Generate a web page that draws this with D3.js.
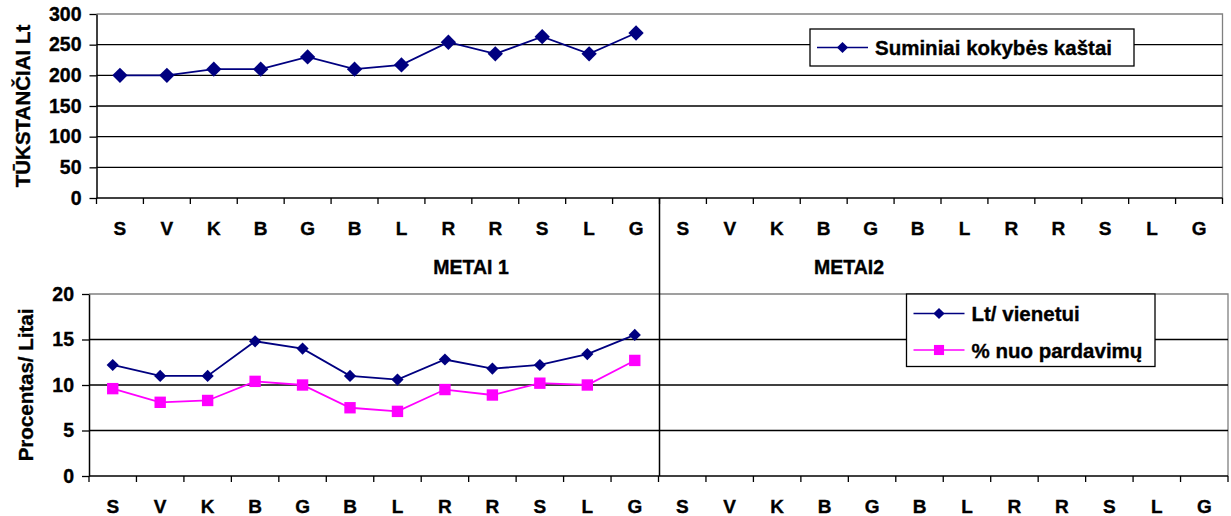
<!DOCTYPE html>
<html>
<head>
<meta charset="utf-8">
<script src="https://cdn.jsdelivr.net/npm/d3@7"></script>
<style>
  html, body { margin: 0; padding: 0; background: #fff; }
  svg { display: block; }
  text { font-family: Arial, "Liberation Sans", sans-serif; font-weight: bold; fill: #000;
         stroke: #000; stroke-width: 0.35px; }
</style>
</head>
<body>
<svg id="chart" width="1231" height="516"></svg>
<script>
// Month initials for one year; the category axis covers two years
const months = ["S", "V", "K", "B", "G", "B", "L", "R", "R", "S", "L", "G"];
const years = ["METAI 1", "METAI2"];
const categories = years.flatMap((y, yi) => months.map((m, mi) => ({ key: yi * 12 + mi, label: m })));

// Upper panel: total quality costs, thousand Lt (first year only)
const totalCosts = [200, 200, 210, 210, 230, 210, 217, 254, 235, 263, 235, 269];
const totalTicks = [0, 50, 100, 150, 200, 250, 300];

// Lower panel: cost per unit (Lt) and share of sales (%)
const perUnit = [12.2, 11.0, 11.0, 14.8, 14.0, 11.0, 10.6, 12.8, 11.8, 12.2, 13.4, 15.5];
const pctSales = [9.6, 8.1, 8.3, 10.4, 10.0, 7.5, 7.1, 9.5, 8.9, 10.2, 10.0, 12.7];
const pctTicks = [0, 5, 10, 15, 20];

const svg = d3.select("#chart");
const NAVY = "#000080", MAGENTA = "#FF00FF", FRAME = "#808080";

function panel(opts) {
  const g = svg.append("g");
  const x = d3.scaleBand().domain(categories.map(d => d.key)).range([opts.left, opts.right]);
  const y = d3.scaleLinear().domain([0, opts.max]).range([opts.bottom, opts.top]);

  // plot frame (top and right edges)
  g.append("path")
    .attr("d", `M${opts.left},${opts.top}H${opts.right}V${opts.bottom}`)
    .attr("fill", "none").attr("stroke", FRAME).attr("stroke-width", 1.3);

  // horizontal gridlines
  g.append("g").selectAll("line")
    .data(opts.ticks.filter(t => t > 0 && t < opts.max))
    .join("line")
    .attr("x1", opts.left).attr("x2", opts.right)
    .attr("y1", d => y(d)).attr("y2", d => y(d))
    .attr("stroke", "#000").attr("stroke-width", 1.3);

  // value axis
  const yAxis = g.append("g")
    .attr("transform", `translate(${opts.left},0)`)
    .call(d3.axisLeft(y).tickValues(opts.ticks).tickSize(7).tickPadding(8).tickSizeOuter(0));
  yAxis.select(".domain").attr("stroke", "#000").attr("stroke-width", 1.5);
  yAxis.selectAll(".tick line").attr("stroke", "#000").attr("stroke-width", 1.3);
  yAxis.selectAll(".tick text")
    .attr("font-size", 19.5).attr("font-family", "Arial, 'Liberation Sans', sans-serif")
    .attr("font-weight", "bold").attr("fill", "#000");

  // category axis line with ticks at band boundaries
  const xg = g.append("g");
  xg.append("line")
    .attr("x1", opts.left).attr("x2", opts.right)
    .attr("y1", opts.bottom).attr("y2", opts.bottom)
    .attr("stroke", "#000").attr("stroke-width", 1.5);
  const bounds = categories.map(d => x(d.key)).concat([opts.right]);
  xg.selectAll("line.tk").data(bounds).join("line").attr("class", "tk")
    .attr("x1", d => d).attr("x2", d => d)
    .attr("y1", opts.bottom).attr("y2", opts.bottom + 6)
    .attr("stroke", "#000").attr("stroke-width", 1.3);
  xg.selectAll("text").data(categories).join("text")
    .attr("x", d => x(d.key) + x.bandwidth() / 2)
    .attr("y", opts.bottom + 37)
    .attr("text-anchor", "middle")
    .attr("font-size", 19)
    .text(d => d.label);

  // axis title
  g.append("text")
    .attr("transform", `translate(${opts.titleX},${(opts.top + opts.bottom) / 2}) rotate(-90)`)
    .attr("text-anchor", "middle")
    .attr("font-size", 20.5)
    .text(opts.title);

  return { g, x, y };
}

const upperPanel = panel({ left: 96.5, right: 1222.5, top: 14, bottom: 198, max: 300,
  ticks: totalTicks, title: "TŪKSTANČIAI Lt", titleX: 29.5 });
const lowerPanel = panel({ left: 89, right: 1228, top: 294, bottom: 476, max: 20,
  ticks: pctTicks, title: "Procentas/ Litai", titleX: 33 });

// year group labels under the upper category axis
svg.append("g").selectAll("text").data(years).join("text")
  .attr("x", (d, i) => i === 0 ? 471 : 849)
  .attr("y", 274)
  .attr("text-anchor", "middle")
  .attr("font-size", 19.5)
  .text(d => d);

// separator between the two years, running down through the lower panel
const sepX = upperPanel.x(12);
svg.append("line")
  .attr("x1", sepX).attr("x2", sepX)
  .attr("y1", 198).attr("y2", 476)
  .attr("stroke", "#000").attr("stroke-width", 1.5);

function series(p, values, color, symbolType, size) {
  const cx = i => p.x(i) + p.x.bandwidth() / 2;
  const line = d3.line().x((d, i) => cx(i)).y(d => p.y(d));
  p.g.append("path").datum(values)
    .attr("d", line).attr("fill", "none").attr("stroke", color).attr("stroke-width", 1.8);
  p.g.append("g").selectAll("path").data(values).join("path")
    .attr("transform", (d, i) => `translate(${cx(i)},${p.y(d)})`)
    .attr("d", d3.symbol().type(symbolType).size(size)())
    .attr("fill", color);
}

series(upperPanel, totalCosts, NAVY, d3.symbolDiamond2, 150);
series(lowerPanel, perUnit, NAVY, d3.symbolDiamond2, 95);
series(lowerPanel, pctSales, MAGENTA, d3.symbolSquare2, 165);

// legends
function legend(x0, y0, w, h, items) {
  const lg = svg.append("g");
  lg.append("rect").attr("x", x0).attr("y", y0).attr("width", w).attr("height", h)
    .attr("fill", "#fff").attr("stroke", "#000").attr("stroke-width", 1.3);
  items.forEach(it => {
    const cy = it.y;
    lg.append("line").attr("x1", x0 + 7).attr("x2", x0 + 58).attr("y1", cy).attr("y2", cy)
      .attr("stroke", it.color).attr("stroke-width", 1.7);
    lg.append("path").attr("transform", `translate(${x0 + 32.5},${cy})`)
      .attr("d", d3.symbol().type(it.symbol).size(it.size)()).attr("fill", it.color);
    lg.append("text").attr("x", x0 + 65).attr("y", cy + 7.5).attr("font-size", 20.5).text(it.label);
  });
}

legend(810, 29, 324, 37, [
  { label: "Suminiai kokybės kaštai", color: NAVY, symbol: d3.symbolDiamond2, size: 80, y: 47.5 }
]);
legend(906.5, 294, 248.5, 72.5, [
  { label: "Lt/ vienetui", color: NAVY, symbol: d3.symbolDiamond2, size: 80, y: 313.5 },
  { label: "% nuo pardavimų", color: MAGENTA, symbol: d3.symbolSquare2, size: 130, y: 350 }
]);
</script>
</body>
</html>
